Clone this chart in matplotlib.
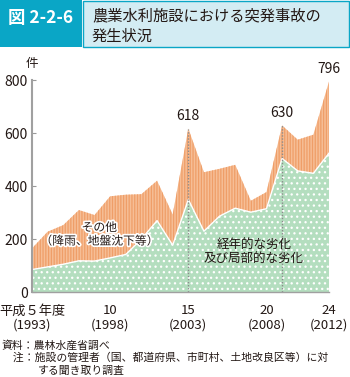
import matplotlib.pyplot as plt
import matplotlib.patheffects as pe
from matplotlib.patches import Rectangle

plt.rcParams['font.family'] = ['Noto Sans CJK JP', 'DejaVu Sans']
plt.rcParams['hatch.linewidth'] = 0.9

# data (fiscal year, number of accidents)
years = list(range(1993, 2013))
total = [165, 228, 253, 310, 291, 362, 368, 370, 421, 293,
         618, 453, 466, 481, 345, 378, 630, 576, 595, 796]
aging = [85, 95, 105, 118, 117, 129, 142, 200, 270, 177,
         350, 230, 287, 317, 302, 315, 505, 458, 449, 525]
peak_years = [2003, 2009, 2012]
xtick_years = [1993, 1998, 2003, 2008, 2012]
xtick_labels = ['平成５年度\n(1993)', '10\n(1998)', '15\n(2003)',
                '20\n(2008)', '24\n(2012)']
yticks = [0, 200, 400, 600, 800]

teal = '#0AA6C6'
orange = '#F6BE96'
orange_dk = '#EF9E68'
green = '#B4DEBF'
txt = '#231815'

fig = plt.figure(figsize=(3.5, 3.77), dpi=100)

# header
fig.add_artist(Rectangle((0, 1 - 47/377), 82/350, 47/377,
                         transform=fig.transFigure, facecolor=teal, edgecolor='none'))
fig.add_artist(Rectangle((83/350, 1 - 47/377), 266/350, 46.5/377,
                         transform=fig.transFigure, facecolor='#D3ECF3',
                         edgecolor=teal, linewidth=1))
fig.text(41/350, 1 - 18/377, '図 2-2-6', color='white', fontsize=12.5,
         fontweight='bold', ha='center', va='center')
fig.text(92/350, 1 - 16/377, '農業水利施設における突発事故の', color=txt,
         fontsize=11, ha='left', va='center')
fig.text(92/350, 1 - 36/377, '発生状況', color=txt,
         fontsize=11, ha='left', va='center')

ax = fig.add_axes([32/350, (377-292)/377, 297/350, 211.5/377])

ax.fill_between(years, aging, total, facecolor=orange, edgecolor=orange_dk,
                hatch='||||||', linewidth=0)
ax.fill_between(years, 0, aging, facecolor=green, edgecolor='white',
                hatch='...', linewidth=0)
ax.plot(years, aging, color='white', lw=1)

for yr in peak_years[:2]:
    v = total[years.index(yr)]
    ax.plot([yr, yr], [0, v], color='#8c8c8c', lw=1, ls=(0, (1, 1.2)))
for yr in peak_years:
    v = total[years.index(yr)]
    ax.text(yr, v + 22, str(v), ha='center', va='bottom', fontsize=10, color=txt)

stroke = [pe.withStroke(linewidth=2.5, foreground='white')]
ax.text(1997.3, 218, 'その他\n（降雨、地盤沈下等）', ha='center', va='center',
        fontsize=8.5, color=txt, linespacing=1.05, path_effects=stroke)
ax.text(2007.2, 150, '経年的な劣化\n及び局部的な劣化', ha='center', va='center',
        fontsize=9, color=txt, linespacing=1.05)

ax.set_xlim(1993, 2012)
ax.set_ylim(0, 800)
ax.set_yticks(yticks)
ax.set_yticklabels([str(v) for v in yticks], fontsize=10, color=txt)
ax.set_xticks(xtick_years)
ax.set_xticklabels(xtick_labels, fontsize=9.5, color=txt, linespacing=1.1)
ax.tick_params(axis='x', length=0, pad=9)
ax.tick_params(axis='y', direction='in', length=3, color='#999999', pad=3)
for s in ['top', 'right']:
    ax.spines[s].set_visible(False)
ax.spines['left'].set_color('#A0A0A0')
ax.spines['left'].set_linewidth(1.5)
ax.spines['bottom'].set_color('#A0A0A0')
ax.spines['bottom'].set_linewidth(1)
ax.text(0, 1.05, '件', transform=ax.transAxes, ha='center', va='bottom',
        fontsize=9, color=txt)

fig.text(2/350, 1 - 345/377, '資料：農林水産省調べ', fontsize=7.8, color=txt,
         ha='left', va='center')
fig.text(2/350, 1 - 358/377, '　注：施設の管理者（国、都道府県、市町村、土地改良区等）に対',
         fontsize=7.8, color=txt, ha='left', va='center')
fig.text(38/350, 1 - 371/377, 'する聞き取り調査', fontsize=7.8, color=txt,
         ha='left', va='center')

fig.savefig('out.png', dpi=100)
